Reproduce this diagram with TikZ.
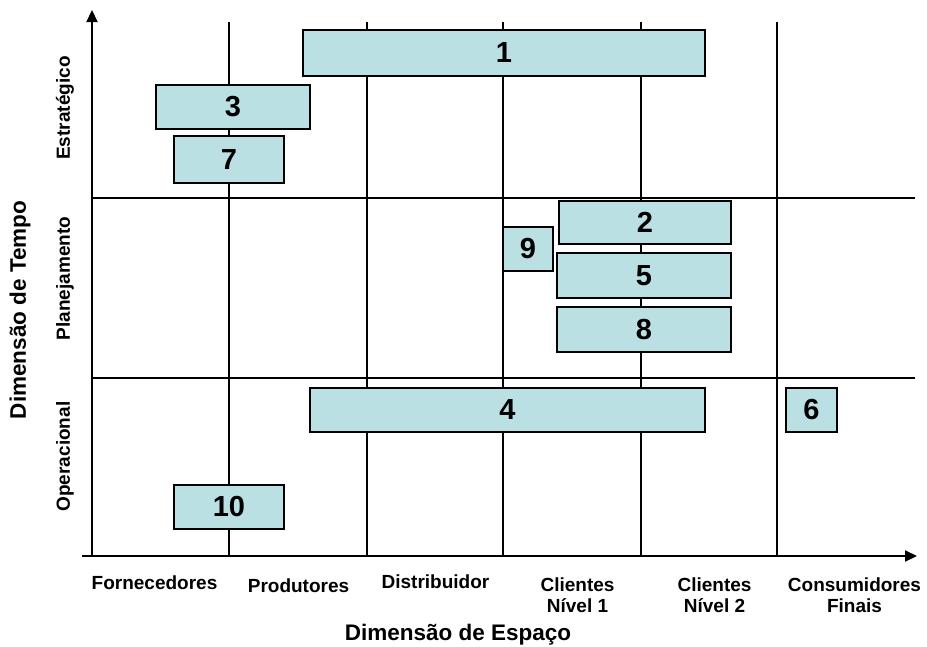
\documentclass[tikz,border=0pt]{standalone}
\usepackage{fontspec}
\setmainfont{Liberation Sans}
\usetikzlibrary{arrows.meta}
\definecolor{boxfill}{RGB}{187,224,227}
\tikzset{
  grid line/.style={line width=2.1pt, black},
  axis line/.style={line width=2.2pt, black, -{Triangle[length=12pt,width=11pt]}},
  box/.style={draw=black, line width=2pt, fill=boxfill, inner sep=0pt,
    font=\fontsize{29}{29}\selectfont\bfseries},
  cat/.style={inner sep=0pt, align=center,
    font=\fontsize{19}{21}\selectfont\bfseries},
  title/.style={inner sep=0pt, font=\fontsize{22.5}{24}\selectfont\bfseries}
}
\begin{document}
\begin{tikzpicture}[x=1pt,y=-1pt]
\useasboundingbox (0,0) rectangle (927,646);

% axes
\coordinate (origin) at (92,556);
\coordinate (xstart) at (82,556);
\coordinate (xend) at (917,556);
\coordinate (yend) at (92,10);
\draw[axis line] (origin) -- (yend);
\draw[axis line] (xstart) -- (xend);

% grid: columns of the supply chain, rows of the time horizon
\foreach \gx in {229,367,503,641,777}
  \draw[grid line] (\gx,22) -- (\gx,556);
\foreach \gy in {198,378}
  \draw[grid line] (92,\gy) -- (915,\gy);

% numbered boxes
\node[box, minimum width=402pt, minimum height=46pt] (b1)  at (504,53)    {1};
\node[box, minimum width=154pt, minimum height=44pt] (b3)  at (233,107)   {3};
\node[box, minimum width=110pt, minimum height=47pt] (b7)  at (229,159.5) {7};
\node[box, minimum width=172pt, minimum height=43pt] (b2)  at (645,222.5) {2};
\node[box, minimum width=50pt,  minimum height=44pt] (b9)  at (528,249)   {9};
\node[box, minimum width=174pt, minimum height=45pt] (b5)  at (644,275.5) {5};
\node[box, minimum width=174pt, minimum height=45pt] (b8)  at (644,329.5) {8};
\node[box, minimum width=395pt, minimum height=44pt] (b4)  at (507.5,410) {4};
\node[box, minimum width=51pt,  minimum height=44pt] (b6)  at (811.5,410) {6};
\node[box, minimum width=110pt, minimum height=44pt] (b10) at (229,507)   {10};

% space dimension labels
\node[cat] (fornecedores) at (154.5,583) {Fornecedores};
\node[cat] (produtores)   at (298.5,586) {Produtores};
\node[cat] (distribuidor) at (435.5,582) {Distribuidor};
\node[cat] (clientes1)    at (577.5,595) {Clientes\\Nível 1};
\node[cat] (clientes2)    at (714.5,595) {Clientes\\Nível 2};
\node[cat] (consumidores) at (854.5,595) {Consumidores\\Finais};
\node[title] (espaco) at (458,635) {Dimensão de Espaço};

% time dimension labels
\node[cat, rotate=90] (estrategico)  at (65,108)   {Estratégico};
\node[cat, rotate=90] (planejamento) at (65,278.5) {Planejamento};
\node[cat, rotate=90] (operacional)  at (65,456.5) {Operacional};
\node[title, rotate=90] (tempo) at (20,310) {Dimensão de Tempo};
\end{tikzpicture}
\end{document}
